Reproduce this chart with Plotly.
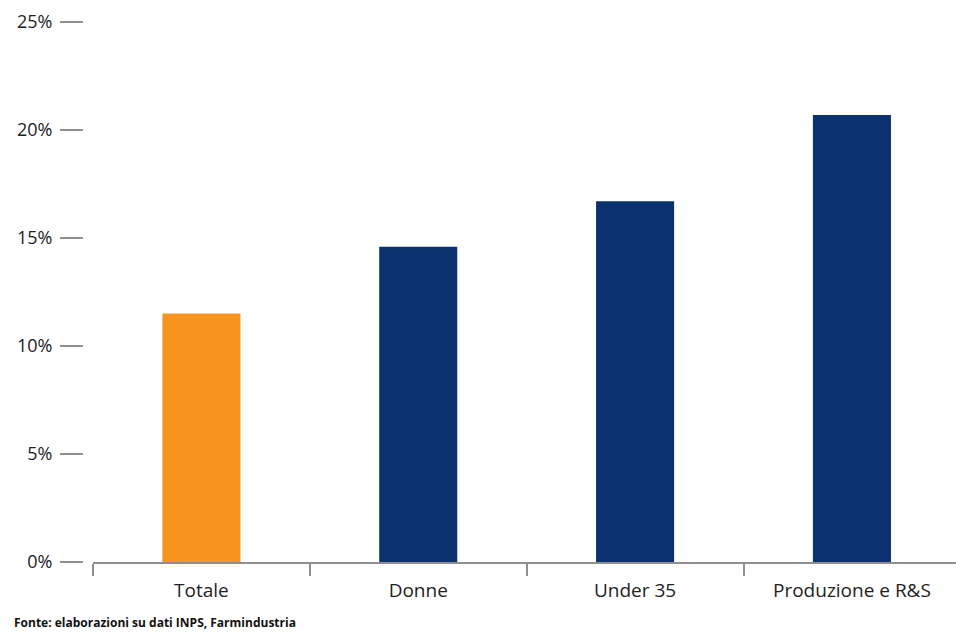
import plotly.graph_objects as go

categories = ["Totale", "Donne", "Under 35", "Produzione e R&S"]
values = [11.5, 14.6, 16.7, 20.7]
colors = ["#F7941D", "#0B326E", "#0B326E", "#0B326E"]
y_ticks = [0, 5, 10, 15, 20, 25]
y_tick_labels = ["0%", "5%", "10%", "15%", "20%", "25%"]
source_note = "Fonte: elaborazioni su dati INPS, Farmindustria"

W, H = 956, 632
ml, mr, mt, mb = 60, 0, 22, 70
plot_w = W - ml - mr
plot_h = H - mt - mb
x_start = (93 - ml) / plot_w
y_pos = (83 - ml) / plot_w

fig = go.Figure(go.Bar(
    x=categories, y=values, marker=dict(color=colors, line=dict(width=0)),
    width=0.36, hoverinfo="skip"))

fig.update_layout(
    width=W, height=H,
    margin=dict(l=ml, r=mr, t=mt, b=mb),
    paper_bgcolor="white", plot_bgcolor="white",
    showlegend=False,
    font=dict(family="Open Sans", color="#222222"),
    xaxis=dict(
        domain=[x_start, 1], range=[-0.5, 3.48],
        showline=True, linecolor="#8f8f8f", linewidth=2,
        ticks="outside", tickson="boundaries", ticklen=12, tickwidth=2, tickcolor="#8f8f8f",
        tickfont=dict(size=19, color="#222222"), ticklabelstandoff=10,
        showgrid=False, zeroline=False,
    ),
    yaxis=dict(
        range=[0, 25], anchor="free", position=y_pos,
        tickvals=y_ticks, ticktext=y_tick_labels,
        ticks="outside", ticklen=23, tickwidth=2, tickcolor="#8f8f8f",
        tickfont=dict(size=18, color="#222222"), ticklabelstandoff=4,
        showline=False, showgrid=False, zeroline=False, automargin=False,
    ),
    annotations=[dict(
        text="<b>" + source_note + "</b>", xref="paper", yref="paper",
        x=(12 - ml) / plot_w, y=(562 - 622) / plot_h,
        xanchor="left", yanchor="middle", showarrow=False,
        font=dict(size=12, color="#111111", family="Open Sans"))],
)

fig.write_html("out.html")
